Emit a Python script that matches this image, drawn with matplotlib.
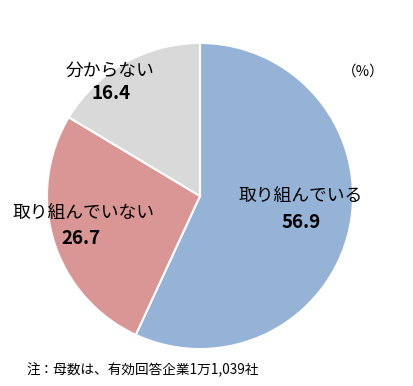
import matplotlib
matplotlib.use("Agg")
import matplotlib.pyplot as plt

plt.rcParams['font.family'] = ['Noto Sans CJK JP', 'DejaVu Sans']

# data
labels = ["取り組んでいる", "取り組んでいない", "分からない"]
values = [56.9, 26.7, 16.4]
colors = ["#95B3D7", "#D99694", "#D9D9D9"]

# label placement (data coords, pie radius = 1)
label_pos = [(0.66, 0.0), (-0.76, -0.11), (-0.59, 0.82)]
value_pos = [(0.66, -0.17), (-0.78, -0.28), (-0.58, 0.67)]

fig = plt.figure(figsize=(4.13, 3.86), dpi=100)
ax = fig.add_axes([47 / 413, 37 / 386, 306 / 413, 306 / 386])

ax.pie(values, colors=colors, startangle=90, counterclock=False,
       radius=1, wedgeprops=dict(edgecolor="white", linewidth=1.5))
ax.set_xlim(-1, 1)
ax.set_ylim(-1, 1)
ax.set_aspect("equal")
ax.axis("off")

for lab, val, lp, vp in zip(labels, values, label_pos, value_pos):
    ax.text(lp[0], lp[1], lab, ha="center", va="center", fontsize=12.8)
    ax.text(vp[0], vp[1], f"{val:.1f}", ha="center", va="center",
            fontsize=13.5, fontweight="bold")

fig.text(363 / 413, 1 - 72 / 386, "（%）", ha="center", va="center", fontsize=10.5)
fig.text(26 / 413, 1 - 370 / 386, "注：母数は、有効回答企業1万1,039社",
         ha="left", va="center", fontsize=9.8)

fig.savefig("out.png", dpi=100)
